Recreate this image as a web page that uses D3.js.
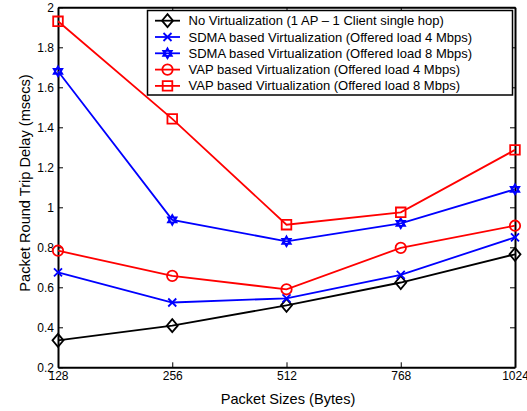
<!DOCTYPE html>
<html>
<head>
<meta charset="utf-8">
<script src="https://cdn.jsdelivr.net/npm/d3@7"></script>
<style>
  body { margin: 0; background: #fff; }
  svg text { font-family: "Liberation Sans", Arial, sans-serif; }
</style>
</head>
<body>
<svg id="chart" width="527" height="411"></svg>
<script>
// packet sizes (bytes)
var sizes = ["128", "256", "512", "768", "1024"];
var yTicks = [0.2, 0.4, 0.6, 0.8, 1, 1.2, 1.4, 1.6, 1.8, 2];

var noVirt   = [0.335, 0.408, 0.51, 0.624, 0.765];
var sdma4    = [0.675, 0.524, 0.545, 0.662, 0.85];
var sdma8    = [1.68, 0.937, 0.83, 0.92, 1.09];
var vap4     = [0.783, 0.657, 0.59, 0.797, 0.908];
var vap8     = [1.93, 1.442, 0.913, 0.975, 1.287];

var seriesNames = [
  "No Virtualization (1 AP \u2013 1 Client single hop)",
  "SDMA based Virtualization (Offered load 4 Mbps)",
  "SDMA based Virtualization (Offered load 8 Mbps)",
  "VAP based Virtualization (Offered load 4 Mbps)",
  "VAP based Virtualization (Offered load 8 Mbps)"
];

var svg = d3.select("#chart");
var margin = {left: 58, right: 12, top: 7.3, bottom: 43.7};
var width = 527 - margin.left - margin.right,
    height = 411 - margin.top - margin.bottom;

var x = d3.scalePoint().domain(sizes).range([0, width]);
var y = d3.scaleLinear().domain([0.2, 2]).range([height, 0]);

var g = svg.append("g")
    .attr("transform", "translate(" + margin.left + "," + margin.top + ")");

// six pointed star (two triangles)
var hexagram = {
  draw: function(ctx, size) {
    var r = Math.sqrt(size) * 0.62;
    for (var t = 0; t < 2; t++) {
      var off = t === 0 ? -Math.PI / 2 : Math.PI / 2;
      for (var i = 0; i < 3; i++) {
        var a = off + i * 2 * Math.PI / 3;
        if (i === 0) ctx.moveTo(r * Math.cos(a), r * Math.sin(a));
        else ctx.lineTo(r * Math.cos(a), r * Math.sin(a));
      }
      ctx.closePath();
    }
  }
};
var diamond = {
  draw: function(ctx, size) {
    var w = 5.5, h = 6.5;
    ctx.moveTo(0, -h); ctx.lineTo(w, 0); ctx.lineTo(0, h); ctx.lineTo(-w, 0); ctx.closePath();
  }
};
var cross = {
  draw: function(ctx, size) {
    var s = 4;
    ctx.moveTo(-s, -s); ctx.lineTo(s, s);
    ctx.moveTo(-s, s); ctx.lineTo(s, -s);
  }
};
var circle = {
  draw: function(ctx, size) {
    ctx.moveTo(5.2, 0); ctx.arc(0, 0, 5.2, 0, 2 * Math.PI);
  }
};
var square = {
  draw: function(ctx, size) {
    ctx.rect(-4.8, -4.8, 9.6, 9.6);
  }
};

var series = [
  {name: seriesNames[0], values: noVirt, color: "#000000", sym: diamond},
  {name: seriesNames[1], values: sdma4, color: "#0000ff", sym: cross},
  {name: seriesNames[2], values: sdma8, color: "#0000ff", sym: hexagram},
  {name: seriesNames[3], values: vap4, color: "#ff0000", sym: circle},
  {name: seriesNames[4], values: vap8, color: "#ff0000", sym: square}
];

// axes (matlab style, ticks inward, box)
var xAxis = d3.axisBottom(x).tickSizeInner(-5).tickSizeOuter(0).tickPadding(4);
var yAxis = d3.axisLeft(y).tickValues(yTicks).tickSizeInner(-5).tickSizeOuter(0).tickPadding(4)
    .tickFormat(function(d){ return String(+d.toFixed(1)); });

var gx = g.append("g").attr("transform", "translate(0," + height + ")").call(xAxis);
var gy = g.append("g").call(yAxis);
var gt = g.append("g").call(d3.axisTop(x).tickSizeInner(-5).tickSizeOuter(0).tickFormat(""));
var gr = g.append("g").attr("transform", "translate(" + width + ",0)")
    .call(d3.axisRight(y).tickValues(yTicks).tickSizeInner(-5).tickSizeOuter(0).tickFormat(""));

[gx, gy, gt, gr].forEach(function(a){
  a.select(".domain").attr("stroke", "#000").attr("stroke-width", 2);
  a.selectAll(".tick line").attr("stroke", "#000").attr("stroke-width", 1);
  a.selectAll(".tick text").attr("font-size", "12px").attr("fill", "#000")
    .attr("font-family", "Liberation Sans, Arial, sans-serif");
});
gy.selectAll(".tick text").attr("dy", "0.35em");

// lines and markers
var line = d3.line()
    .x(function(d, i){ return x(sizes[i]); })
    .y(function(d){ return y(d); });

series.forEach(function(s){
  g.append("path")
    .datum(s.values)
    .attr("d", line)
    .attr("fill", "none")
    .attr("stroke", s.color)
    .attr("stroke-width", 1.8);
  g.selectAll(null)
    .data(s.values)
    .enter()
    .append("path")
    .attr("transform", function(d, i){ return "translate(" + x(sizes[i]) + "," + y(d) + ")"; })
    .attr("d", d3.symbol().type(s.sym).size(64))
    .attr("fill", "none")
    .attr("stroke", s.color)
    .attr("stroke-width", 1.8);
});

// axis labels
svg.append("text")
    .attr("x", 288)
    .attr("y", 404)
    .attr("text-anchor", "middle")
    .attr("font-size", "14.6px")
    .text("Packet Sizes (Bytes)");

svg.append("text")
    .attr("transform", "translate(30,183) rotate(-90)")
    .attr("text-anchor", "middle")
    .attr("font-size", "14.6px")
    .text("Packet Round Trip Delay (msecs)");

// legend
var legend = svg.append("g").attr("transform", "translate(147.5,10.5)");
legend.append("rect")
    .attr("width", 365)
    .attr("height", 84.5)
    .attr("fill", "#fff")
    .attr("stroke", "#000")
    .attr("stroke-width", 1.5);

series.forEach(function(s, i){
  var ly = 10.2 + i * 16.3;
  legend.append("line")
    .attr("x1", 7.5).attr("x2", 32.5)
    .attr("y1", ly).attr("y2", ly)
    .attr("stroke", s.color).attr("stroke-width", 1.8);
  legend.append("path")
    .attr("transform", "translate(20," + ly + ")")
    .attr("d", d3.symbol().type(s.sym).size(64))
    .attr("fill", "none")
    .attr("stroke", s.color)
    .attr("stroke-width", 1.8);
  legend.append("text")
    .attr("x", 41)
    .attr("y", ly)
    .attr("dy", "0.35em")
    .attr("font-size", "13px")
    .text(s.name);
});
</script>
</body>
</html>
